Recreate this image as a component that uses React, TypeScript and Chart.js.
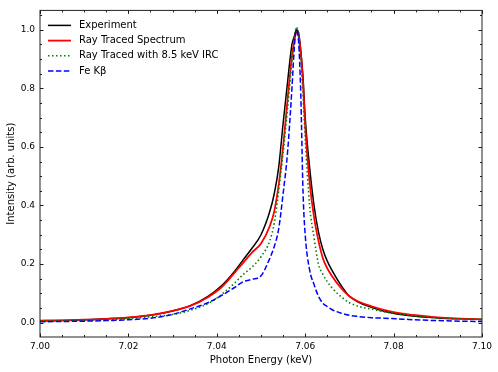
import React, { useEffect, useRef } from 'react';
import Chart from 'chart.js/auto';

// Photon energy grid (keV)
const energy = [
  7.000, 7.005, 7.010, 7.015, 7.020, 7.025, 7.030, 7.034, 7.038, 7.041,
  7.044, 7.046, 7.048, 7.050, 7.052, 7.053, 7.054, 7.055, 7.056, 7.057,
  7.0575, 7.058, 7.0585, 7.059, 7.0595, 7.060, 7.061, 7.062, 7.063, 7.064,
  7.065, 7.066, 7.068, 7.070, 7.072, 7.075, 7.078, 7.082, 7.086, 7.090,
  7.095, 7.100,
];

const experiment = [
  0.006, 0.007, 0.010, 0.013, 0.017, 0.025, 0.040, 0.058, 0.090, 0.125,
  0.175, 0.215, 0.255, 0.30, 0.38, 0.44, 0.53, 0.68, 0.82, 0.95,
  0.975, 1.0, 0.99, 0.93, 0.84, 0.70, 0.53, 0.40, 0.31, 0.25,
  0.21, 0.18, 0.13, 0.09, 0.07, 0.052, 0.038, 0.027, 0.020, 0.016,
  0.013, 0.011,
];

const rayTraced = [
  0.007, 0.008, 0.010, 0.013, 0.018, 0.026, 0.040, 0.057, 0.087, 0.12,
  0.17, 0.205, 0.24, 0.27, 0.33, 0.38, 0.47, 0.60, 0.76, 0.91,
  0.96, 0.99, 0.98, 0.92, 0.82, 0.67, 0.48, 0.36, 0.28, 0.22,
  0.185, 0.16, 0.12, 0.09, 0.072, 0.056, 0.043, 0.031, 0.024, 0.018,
  0.014, 0.011,
];

const rayTracedIrc = [
  0.005, 0.006, 0.008, 0.010, 0.014, 0.020, 0.028, 0.042, 0.065, 0.095,
  0.135, 0.165, 0.19, 0.225, 0.28, 0.34, 0.45, 0.58, 0.73, 0.89,
  0.96, 1.01, 0.98, 0.90, 0.78, 0.63, 0.40, 0.29, 0.20, 0.165,
  0.14, 0.12, 0.09, 0.068, 0.056, 0.046, 0.037, 0.027, 0.021, 0.016,
  0.013, 0.011,
];

const feKb = [
  0.003, 0.004, 0.005, 0.007, 0.010, 0.015, 0.028, 0.047, 0.068, 0.092,
  0.12, 0.14, 0.148, 0.16, 0.22, 0.26, 0.32, 0.44, 0.58, 0.80,
  0.93, 1.0, 0.96, 0.78, 0.45, 0.30, 0.18, 0.13, 0.09, 0.066,
  0.055, 0.045, 0.033, 0.025, 0.021, 0.017, 0.015, 0.012, 0.009, 0.007,
  0.005, 0.004,
];

const seriesLabels = ['Experiment', 'Ray Traced Spectrum', 'Ray Traced with 8.5 keV IRC', 'Fe Kβ'];
const xTickValues = [7.0, 7.02, 7.04, 7.06, 7.08, 7.1];
const yTickValues = [0.0, 0.2, 0.4, 0.6, 0.8, 1.0];

const FONT = "'DejaVu Sans', sans-serif";

export default function App() {
  const ref = useRef<HTMLCanvasElement>(null);

  useEffect(() => {
    document.body.style.margin = '0';
    const canvas = ref.current!;
    const pts = (ys: number[]) => energy.map((x, i) => ({ x, y: ys[i] }));

    const frameTicks = {
      id: 'frameTicks',
      afterDatasetsDraw(chart: any) {
        const { ctx, chartArea: a, scales } = chart;
        const xs = scales.x;
        const ys = scales.y;
        ctx.save();
        ctx.strokeStyle = '#000';
        ctx.lineWidth = 0.9;
        const major = 3.5;
        const minor = 2;
        ctx.beginPath();
        for (let v = 7.0; v <= 7.1001; v += 0.005) {
          const isMajor = Math.abs(Math.round(v / 0.02) * 0.02 - v) < 1e-6;
          const len = isMajor ? major : minor;
          const px = Math.round(xs.getPixelForValue(v)) + 0.5;
          ctx.moveTo(px, a.bottom);
          ctx.lineTo(px, a.bottom - len);
          ctx.moveTo(px, a.top);
          ctx.lineTo(px, a.top + len);
        }
        for (let v = -0.05; v <= 1.0501; v += 0.05) {
          if (v < ys.min || v > ys.max) continue;
          const isMajor = Math.abs(Math.round(v / 0.2) * 0.2 - v) < 1e-6;
          const len = isMajor ? major : minor;
          const py = Math.round(ys.getPixelForValue(v)) + 0.5;
          ctx.moveTo(a.left, py);
          ctx.lineTo(a.left + len, py);
          ctx.moveTo(a.right, py);
          ctx.lineTo(a.right - len, py);
        }
        ctx.stroke();
        ctx.lineWidth = 1;
        ctx.strokeStyle = '#222';
        ctx.strokeRect(a.left, a.top, a.right - a.left, a.bottom - a.top);
        ctx.restore();
      },
      afterDraw(chart: any) {
        const { ctx, chartArea: a } = chart;
        ctx.save();
        ctx.font = `10px ${FONT}`;
        ctx.textBaseline = 'middle';
        ctx.fillStyle = '#000';
        chart.data.datasets.forEach((ds: any, i: number) => {
          const y = a.top + 15 + i * 15.2;
          const x0 = a.left + 8;
          ctx.beginPath();
          ctx.strokeStyle = ds.borderColor;
          ctx.lineWidth = ds.borderWidth;
          ctx.setLineDash(ds.borderDash || []);
          ctx.moveTo(x0, y);
          ctx.lineTo(x0 + 23, y);
          ctx.stroke();
          ctx.setLineDash([]);
          ctx.fillText(ds.label, x0 + 31, y);
        });
        ctx.restore();
      },
    };

    const chart = new Chart(canvas, {
      type: 'line',
      data: {
        datasets: [
          { label: seriesLabels[0], data: pts(experiment), borderColor: '#000000', borderWidth: 1.5, order: 4 },
          { label: seriesLabels[1], data: pts(rayTraced), borderColor: '#ff0000', borderWidth: 1.8, order: 3 },
          { label: seriesLabels[2], data: pts(rayTracedIrc), borderColor: '#008000', borderWidth: 1.6, borderDash: [1.5, 2.5], order: 2 },
          { label: seriesLabels[3], data: pts(feKb), borderColor: '#0000ff', borderWidth: 1.5, borderDash: [5.5, 2.4], order: 1 },
        ],
      },
      options: {
        responsive: false,
        animation: false,
        layout: { padding: { top: 8, right: 16, left: 0, bottom: 0 } },
        plugins: { legend: { display: false }, tooltip: { enabled: false } },
        elements: {
          point: { radius: 0 },
          line: { cubicInterpolationMode: 'monotone', fill: false },
        },
        scales: {
          x: {
            type: 'linear',
            min: 7.0,
            max: 7.1,
            afterBuildTicks: (s: any) => { s.ticks = xTickValues.map((v) => ({ value: v })); },
            afterFit: (s: any) => { s.height = 35; },
            grid: { display: false, drawTicks: false },
            border: { display: false },
            ticks: {
              padding: 4,
              autoSkip: false,
              maxRotation: 0,
              color: '#000',
              font: { family: FONT, size: 9 },
              callback: (v: any) => Number(v).toFixed(2),
            },
            title: {
              display: true,
              text: 'Photon Energy (keV)',
              color: '#000',
              font: { family: FONT, size: 10 },
              padding: { top: 0, bottom: 6 },
            },
          },
          y: {
            type: 'linear',
            min: -0.049,
            max: 1.066,
            afterBuildTicks: (s: any) => { s.ticks = yTickValues.map((v) => ({ value: v })); },
            afterFit: (s: any) => { s.width = 40; },
            grid: { display: false, drawTicks: false },
            border: { display: false },
            ticks: {
              padding: 5,
              color: '#000',
              font: { family: FONT, size: 9 },
              callback: (v: any) => Number(v).toFixed(1),
            },
            title: {
              display: true,
              text: 'Intensity (arb. units)',
              color: '#000',
              font: { family: FONT, size: 10 },
              padding: { top: 5, bottom: 0 },
            },
          },
        },
      },
      plugins: [frameTicks],
    } as any);

    return () => chart.destroy();
  }, []);

  return <canvas ref={ref} width={498} height={372} style={{ display: 'block' }} />;
}
